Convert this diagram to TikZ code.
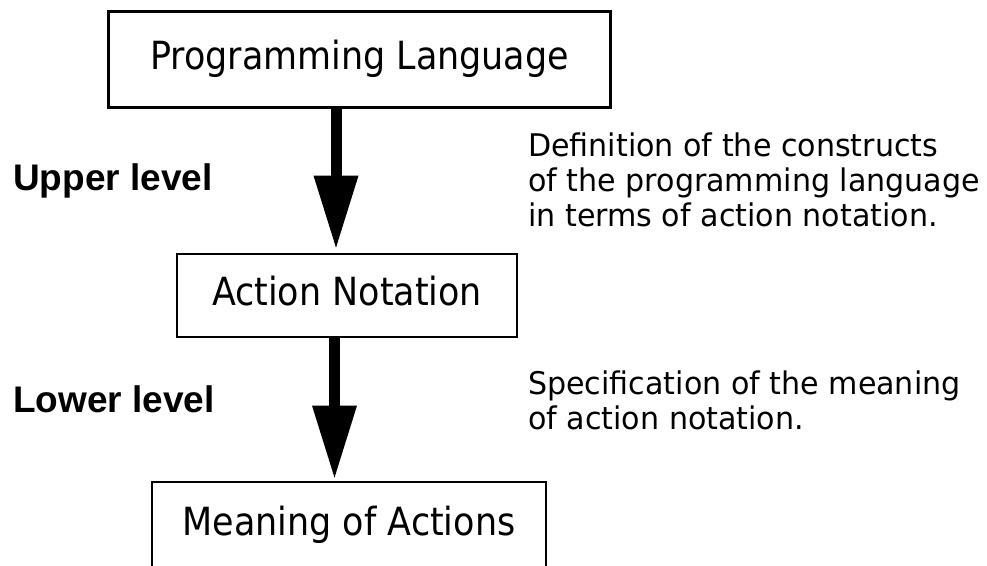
\documentclass[tikz,border=0pt]{standalone}
\usepackage{fontspec}
\usetikzlibrary{arrows.meta}
\newfontfamily\boxfont[FakeStretch=0.9]{DejaVu Sans}
\newfontfamily\notefont[FakeStretch=0.965]{DejaVu Sans}
\newfontfamily\lblfont{Liberation Sans}
\begin{document}
\begin{tikzpicture}[x=1pt,y=-1pt,
  box/.style={draw=black, line width=2.7pt, inner sep=0pt,
    text height=30pt, text depth=10pt,
    font=\boxfont\fontsize{38.8}{42}\selectfont},
  note/.style={inner sep=0pt, align=left, anchor=north west,
    font=\notefont\fontsize{31.2}{35}\selectfont},
  lvl/.style={inner sep=0pt, anchor=base west,
    font=\lblfont\bfseries\fontsize{37}{40}\selectfont},
  bigarrow/.style={line width=11pt,
    -{Triangle[width=45pt,length=72pt,line width=0pt]}}]
\useasboundingbox (0,0) rectangle (987,565);
\fill[white] (0,0) rectangle (987,565);

\node[box, minimum width=502pt, minimum height=96pt] (plang) at (359.5,59.5) {Programming Language};
\node[box, minimum width=340pt, minimum height=83pt] (act) at (347,295.5) {Action Notation};
\node[box, minimum width=394pt, inner ysep=23pt, anchor=base] (meaning) at (349,535) {Meaning of Actions};

\coordinate (a1) at (336,0);
\coordinate (a2) at (334.5,0);
\draw[bigarrow] (plang.south -| a1) -- ([yshift=5pt]act.north -| a1);
\draw[bigarrow] (act.south -| a2) -- ([yshift=3pt]meaning.north -| a2);

\node[lvl] (upper) at (13,190) {Upper level};
\node[lvl] (lower) at (13,412) {Lower level};

\node[note] (def) at (528,133) {Definition of the constructs\\of the programming language\\in terms of action notation.};
\node[note] (spec) at (528,371) {Specification of the meaning\\of action notation.};
\end{tikzpicture}
\end{document}
